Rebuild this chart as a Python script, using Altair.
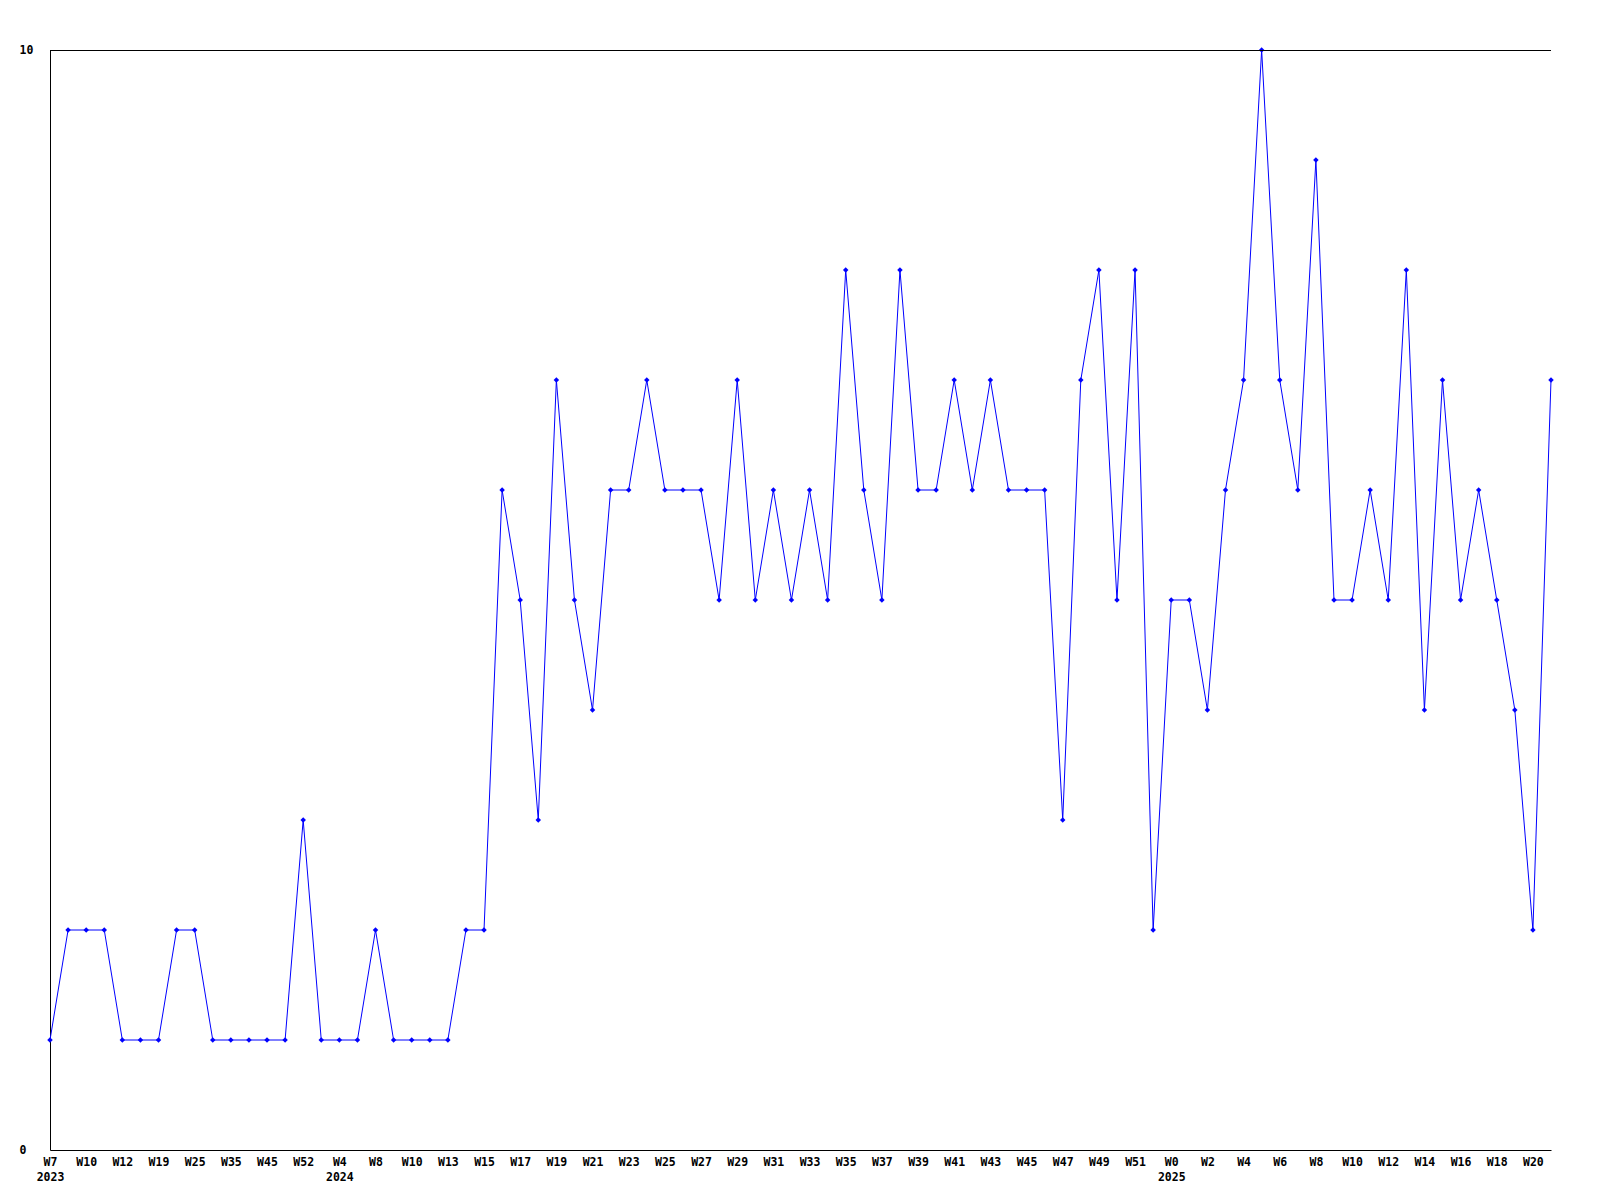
import json
import altair as alt
import pandas as pd

# data values (one per week sample)
values = [1, 2, 2, 2, 1, 1, 1, 2, 2, 1,
          1, 1, 1, 1, 3, 1, 1, 1, 2, 1,
          1, 1, 1, 2, 2, 6, 5, 3, 7, 5,
          4, 6, 6, 7, 6, 6, 6, 5, 7, 5,
          6, 5, 6, 5, 8, 6, 5, 8, 6, 6,
          7, 6, 7, 6, 6, 6, 3, 7, 8, 5,
          8, 2, 5, 5, 4, 6, 7, 10, 7, 6,
          9, 5, 5, 6, 5, 8, 4, 7, 5, 6,
          5, 4, 2, 7]

# tick labels shown at every second sample
tick_labels = ["W7", "W10", "W12", "W19", "W25", "W35", "W45", "W52", "W4", "W8",
               "W10", "W13", "W15", "W17", "W19", "W21", "W23", "W25", "W27", "W29",
               "W31", "W33", "W35", "W37", "W39", "W41", "W43", "W45", "W47", "W49",
               "W51", "W0", "W2", "W4", "W6", "W8", "W10", "W12", "W14", "W16",
               "W18", "W20"]
year_labels = {0: "2023", 16: "2024", 62: "2025"}

df = pd.DataFrame({"idx": list(range(len(values))), "value": values})

tick_vals = list(range(0, len(values), 2))
label_lines = []
for k, t in enumerate(tick_labels):
    i = tick_vals[k]
    if i in year_labels:
        label_lines.append([t, year_labels[i]])
    else:
        label_lines.append([t])
label_expr = json.dumps(label_lines) + "[round(datum.value/2)]"

W = 1501
H = 1100
FONT = "DejaVu Sans Mono"
FS = 11.5

x_enc = alt.X(
    "idx:Q",
    scale=alt.Scale(domain=[0, len(values) - 1], nice=False, zero=False),
    axis=alt.Axis(
        values=tick_vals,
        labelExpr=label_expr,
        title=None,
        grid=False,
        ticks=False,
        domainColor="black",
        domainWidth=1,
        labelFont=FONT,
        labelFontWeight="bold",
        labelFontSize=FS,
        labelColor="black",
        labelPadding=6,
        labelLineHeight=15,
        labelBaseline="top",
        labelAlign="center",
        labelOverlap=False,
        labelFlush=False,
        labelBound=False,
    ),
)
y_enc = alt.Y(
    "value:Q",
    scale=alt.Scale(domain=[0, 10], nice=False),
    axis=alt.Axis(
        values=[0, 10],
        format="d",
        title=None,
        grid=False,
        ticks=False,
        domainColor="black",
        domainWidth=1,
        labelFont=FONT,
        labelFontWeight="bold",
        labelFontSize=FS,
        labelColor="black",
        labelAlign="left",
        labelBaseline="middle",
        labelPadding=31,
        labelFlush=False,
        labelOverlap=False,
    ),
)

base = alt.Chart(df).encode(x=x_enc, y=y_enc)

line = base.mark_line(color="#0000FF", strokeWidth=1)
pts = base.mark_point(shape="diamond", filled=True, color="#0000FF", size=30, opacity=1)
top_rule = alt.Chart(df).mark_rule(color="black", strokeWidth=1).encode(
    x=alt.value(0), x2=alt.value(W), y=alt.value(0.5)
)

chart = (
    alt.layer(line, pts, top_rule)
    .properties(
        width=W,
        height=H,
        autosize=alt.AutoSizeParams(type="none"),
        padding={"left": 42, "top": 42, "right": 20, "bottom": 40},
        background="white",
    )
    .configure_view(stroke=None)
)

chart.save("out.html", embed_options={"renderer": "svg", "actions": False})
